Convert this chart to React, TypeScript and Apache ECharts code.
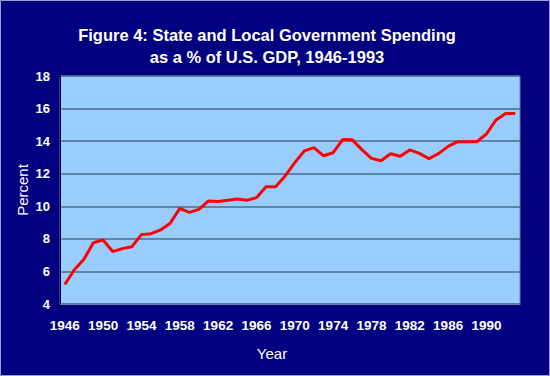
import React, { useEffect, useRef } from "react";
import * as echarts from "echarts";

const years: string[] = [
  "1946","1947","1948","1949","1950","1951","1952","1953","1954","1955",
  "1956","1957","1958","1959","1960","1961","1962","1963","1964","1965",
  "1966","1967","1968","1969","1970","1971","1972","1973","1974","1975",
  "1976","1977","1978","1979","1980","1981","1982","1983","1984","1985",
  "1986","1987","1988","1989","1990","1991","1992","1993",
];

const spending: number[] = [
  5.2, 6.1, 6.75, 7.77, 7.93, 7.22, 7.4, 7.52, 8.26, 8.32,
  8.55, 8.96, 9.87, 9.63, 9.81, 10.33, 10.3, 10.37, 10.45, 10.37,
  10.53, 11.2, 11.2, 11.86, 12.68, 13.4, 13.6, 13.1, 13.29, 14.1,
  14.08, 13.48, 12.94, 12.8, 13.23, 13.07, 13.46, 13.25, 12.93, 13.23,
  13.68, 13.97, 13.97, 13.97, 14.44, 15.3, 15.69, 15.69,
];

const titleLines: string[] = [
  "Figure 4: State and Local Government Spending",
  "as a % of U.S. GDP, 1946-1993",
];

const FONT = "'Liberation Sans', Arial, Helvetica, sans-serif";

export default function App() {
  const ref = useRef<HTMLDivElement>(null);
  useEffect(() => {
    if (!ref.current) return;
    const chart = echarts.init(ref.current, undefined, { renderer: "svg" });
    chart.setOption({
      animation: false,
      backgroundColor: "#000080",
      textStyle: { fontFamily: FONT },
      grid: {
        left: 60,
        right: 30,
        top: 76,
        bottom: 72,
        show: true,
        backgroundColor: "#99CCFF",
        borderColor: "#6A7FA0",
        borderWidth: 1,
      },
      graphic: [
        {
          type: "rect",
          shape: { x: 0.5, y: 0.5, width: 549, height: 375 },
          style: { fill: "none", stroke: "#A0A0D0", lineWidth: 1 },
          silent: true,
        },
        {
          type: "text",
          x: 267,
          y: 35,
          style: {
            text: titleLines[0],
            fill: "#FFFFFF",
            font: `bold 16.5px ${FONT}`,
            textAlign: "center",
            textVerticalAlign: "middle",
          },
        },
        {
          type: "text",
          x: 267,
          y: 57,
          style: {
            text: titleLines[1],
            fill: "#FFFFFF",
            font: `bold 16.5px ${FONT}`,
            textAlign: "center",
            textVerticalAlign: "middle",
          },
        },
        {
          type: "text",
          x: 272,
          y: 353,
          style: {
            text: "Year",
            fill: "#FFFFFF",
            font: `15px ${FONT}`,
            textAlign: "center",
            textVerticalAlign: "middle",
          },
        },
        {
          type: "text",
          x: 22,
          y: 190,
          rotation: Math.PI / 2,
          style: {
            text: "Percent",
            fill: "#FFFFFF",
            font: `15px ${FONT}`,
            textAlign: "center",
            textVerticalAlign: "middle",
          },
        },
      ],
      xAxis: {
        type: "category",
        data: years,
        boundaryGap: true,
        axisLine: { show: true, lineStyle: { color: "#6A7FA0", width: 1 } },
        axisTick: { show: false },
        axisLabel: {
          interval: 3,
          color: "#FFFFFF",
          fontWeight: "bold",
          fontSize: 13.5,
          margin: 14,
          fontFamily: FONT,
        },
        splitLine: { show: false },
      },
      yAxis: {
        type: "value",
        min: 4,
        max: 18,
        interval: 2,
        axisLine: { show: true, lineStyle: { color: "#000040", width: 1 } },
        axisTick: { show: true, length: 4, lineStyle: { color: "#000040" } },
        axisLabel: {
          color: "#FFFFFF",
          fontWeight: "bold",
          fontSize: 13,
          margin: 10,
          fontFamily: FONT,
        },
        splitLine: { show: true, lineStyle: { color: "#4F6B8C", width: 1.5 } },
      },
      series: [
        {
          type: "line",
          data: spending,
          showSymbol: false,
          symbol: "none",
          lineStyle: { color: "#FF0000", width: 3 },
          itemStyle: { color: "#FF0000" },
        },
      ],
    });
    return () => chart.dispose();
  }, []);
  return (
    <div
      ref={ref}
      style={{ position: "fixed", left: 0, top: 0, width: 550, height: 376 }}
    />
  );
}
